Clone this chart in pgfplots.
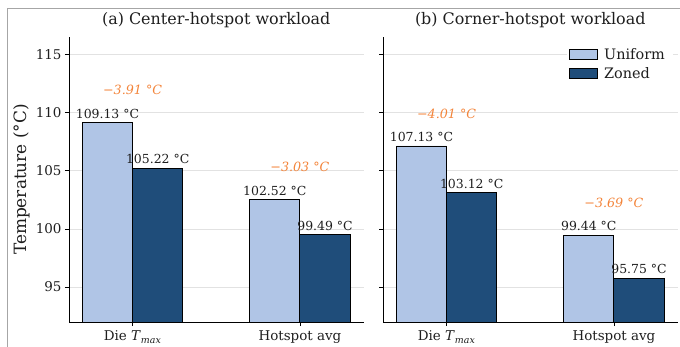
\documentclass[border=0pt]{standalone}
\usepackage{fontspec}
\setmainfont{DejaVu Serif}
\usepackage{pgfplots}
\pgfplotsset{compat=1.18}

\definecolor{uni}{RGB}{176,197,230}
\definecolor{zon}{RGB}{31,77,122}
\definecolor{delta}{RGB}{243,132,58}
\definecolor{gridc}{RGB}{226,226,226}
\definecolor{txt}{RGB}{30,30,30}

\pgfplotsset{
  panel/.style={
    scale only axis, width=294.5bp, height=285bp,
    xmin=-0.38, xmax=1.38, ymin=92, ymax=116.5,
    ybar, bar width=0.3,
    axis x line*=bottom, axis y line*=left,
    axis line style={line width=0.8bp, -, black},
    xtick={0,1},
    xticklabels={{Die \textit{T}\textsubscript{\textit{max}}}, {Hotspot avg}},
    ytick={95,100,105,110,115},
    tick align=outside, major tick length=4bp,
    tick style={black, line width=0.8bp},
    ymajorgrids, grid style={gridc, line width=0.8bp},
    tick label style={font=\fontsize{13.5}{15}\selectfont, text=txt},
    xticklabel style={yshift=-1.5bp},
    /pgf/number format/assume math mode=true,
    title style={font=\fontsize{16}{18}\selectfont, text=txt,
      at={(0.5,1)}, anchor=base, yshift=7bp},
    legend image code/.code={\draw[#1, draw=black, line width=0.8bp]
      (0bp,-4.5bp) rectangle (28bp,5.5bp);},
  },
  valuelabels/.style={
    nodes near coords={\pgfmathprintnumber[fixed,fixed zerofill,precision=2]{\pgfplotspointmeta}~°C},
    every node near coord/.append style={font=\fontsize{12.5}{14}\selectfont,
      text=txt, anchor=base, inner sep=0pt, yshift=4.5bp}},
  uniform/.style={fill=uni, draw=black, line width=0.9bp, bar shift=-0.15, valuelabels},
  zoned/.style={fill=zon, draw=black, line width=0.9bp, bar shift=0.15, valuelabels},
  gap/.style={draw=none, fill=none, bar shift=0, forget plot,
    point meta=explicit symbolic,
    nodes near coords={\pgfplotspointmeta},
    every node near coord/.style={anchor=center,
      font=\itshape\fontsize{12.75}{15}\selectfont, text=delta}},
}

\begin{document}
\begin{tikzpicture}
\useasboundingbox (0bp,0bp) rectangle (680bp,347bp);
\draw[black!35, line width=1bp] (7bp,0bp) -- (7bp,338bp) -- (680bp,338bp);

% (a) hotspot in the centre of the die
\begin{axis}[panel, at={(69bp,25bp)}, anchor=south west,
  title={(a) Center-hotspot workload},
  ylabel={Temperature (°C)},
  ylabel style={font=\fontsize{17}{19}\selectfont, text=txt,
    at={(axis description cs:-0.161,0.5)}, anchor=center, rotate=0},
  ]
  \addplot[uniform] coordinates {(0,109.13) (1,102.52)};
  \addplot[zoned]   coordinates {(0,105.22) (1,99.49)};
  \addplot[gap] coordinates {(0,111.93)[−3.91~°C] (1,105.32)[−3.03~°C]};
\end{axis}

% (b) hotspot in a corner of the die
\begin{axis}[panel, at={(383bp,25bp)}, anchor=south west,
  title={(b) Corner-hotspot workload},
  yticklabels={},
  legend cell align=left,
  legend style={at={(axis description cs:0.985,0.975)}, anchor=north east,
    draw=none, fill=white,
    font=\fontsize{14.5}{17}\selectfont, text=txt,
    row sep=3bp, inner sep=2bp,
    nodes={inner xsep=6bp}},
  ]
  \addplot[uniform] coordinates {(0,107.13) (1,99.44)};
  \addplot[zoned]   coordinates {(0,103.12) (1,95.75)};
  \addplot[gap] coordinates {(0,109.93)[−4.01~°C] (1,102.24)[−3.69~°C]};
  \legend{Uniform, Zoned}
\end{axis}
\end{tikzpicture}
\end{document}
